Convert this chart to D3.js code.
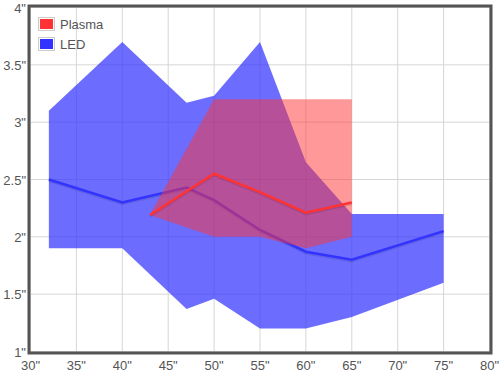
<!DOCTYPE html>
<html>
<head>
<meta charset="utf-8">
<script src="https://cdn.jsdelivr.net/npm/d3@7"></script>
<style>
  body { margin: 0; background: #fff; }
  svg text { font-family: Arial, "Liberation Sans", sans-serif; font-size: 13px; fill: #545454; }
</style>
</head>
<body>
<svg id="chart" width="500" height="375"></svg>
<script>
// screen size in inches
const ledSizes = [32, 40, 47, 50, 55, 60, 65, 75];
const ledHigh = [3.1, 3.7, 3.17, 3.23, 3.7, 2.65, 2.2, 2.2];
const ledMid = [2.5, 2.3, 2.43, 2.32, 2.06, 1.87, 1.8, 2.05];
const ledLow = [1.9, 1.9, 1.37, 1.46, 1.2, 1.2, 1.3, 1.6];

const plasmaSizes = [43, 50, 55, 60, 65];
const plasmaHigh = [2.19, 3.2, 3.2, 3.2, 3.2];
const plasmaMid = [2.19, 2.55, 2.39, 2.21, 2.3];
const plasmaLow = [2.19, 2.0, 2.0, 1.9, 2.0];

const xTicks = [30, 35, 40, 45, 50, 55, 60, 65, 70, 75, 80];
const yTicks = [1, 1.5, 2, 2.5, 3, 3.5, 4];

const seriesNames = ['Plasma', 'LED'];
const seriesColors = ['#ff3333', '#3333ff'];

const svg = d3.select('#chart');
const x = d3.scaleLinear().domain([30, 80]).range([30.5, 489.5]);
const y = d3.scaleLinear().domain([1, 4]).range([351.5, 7.5]);

// grid
const grid = svg.append('g');
grid.selectAll('line.gx').data(xTicks).enter().append('line')
  .attr('x1', d => x(d)).attr('x2', d => x(d))
  .attr('y1', y(4)).attr('y2', y(1))
  .attr('stroke', '#d6d6d6').attr('stroke-width', 1);
grid.selectAll('line.gy').data(yTicks).enter().append('line')
  .attr('y1', d => y(d)).attr('y2', d => y(d))
  .attr('x1', x(30)).attr('x2', x(80))
  .attr('stroke', '#d6d6d6').attr('stroke-width', 1);

function makeRows(sizes, high, mid, low) {
  return sizes.map((s, i) => ({ s, hi: high[i], mid: mid[i], lo: low[i] }));
}

const area = d3.area().x(d => x(d.s)).y0(d => y(d.lo)).y1(d => y(d.hi));
const line = d3.line().x(d => x(d.s)).y(d => y(d.mid));

function drawSeries(rows, color, fillOpacity) {
  svg.append('path').datum(rows)
    .attr('d', area)
    .attr('fill', color)
    .attr('fill-opacity', fillOpacity);
  // faint shadow like flot
  svg.append('path').datum(rows)
    .attr('d', line)
    .attr('transform', 'translate(0,1.5)')
    .attr('fill', 'none')
    .attr('stroke', 'rgba(0,0,0,0.1)')
    .attr('stroke-width', 2.5);
  svg.append('path').datum(rows)
    .attr('d', line)
    .attr('fill', 'none')
    .attr('stroke', color)
    .attr('stroke-width', 2.5)
    .attr('stroke-linejoin', 'miter');
}

drawSeries(makeRows(ledSizes, ledHigh, ledMid, ledLow), seriesColors[1], 0.72);
drawSeries(makeRows(plasmaSizes, plasmaHigh, plasmaMid, plasmaLow), seriesColors[0], 0.5);

// border
svg.append('rect')
  .attr('x', 29).attr('y', 6)
  .attr('width', 462).attr('height', 347)
  .attr('fill', 'none')
  .attr('stroke', '#545454')
  .attr('stroke-width', 3);

// tick labels
svg.selectAll('text.xl').data(xTicks).enter().append('text')
  .attr('x', d => x(d)).attr('y', 370)
  .attr('text-anchor', 'middle')
  .text(d => d + '"');
svg.selectAll('text.yl').data(yTicks).enter().append('text')
  .attr('x', 26).attr('y', d => y(d) + 5)
  .attr('text-anchor', 'end')
  .text(d => d + '"');

// legend
const legend = svg.append('g').attr('transform', 'translate(38,17)');
seriesNames.forEach((name, i) => {
  const g = legend.append('g').attr('transform', `translate(0,${i * 20})`);
  g.append('rect').attr('x', 0.5).attr('y', 0.5).attr('width', 16).attr('height', 13)
    .attr('fill', '#fff').attr('stroke', '#ccc');
  g.append('rect').attr('x', 2).attr('y', 2).attr('width', 13).attr('height', 10)
    .attr('fill', seriesColors[i]);
  g.append('text').attr('x', 22).attr('y', 11.5).text(name);
});
</script>
</body>
</html>
